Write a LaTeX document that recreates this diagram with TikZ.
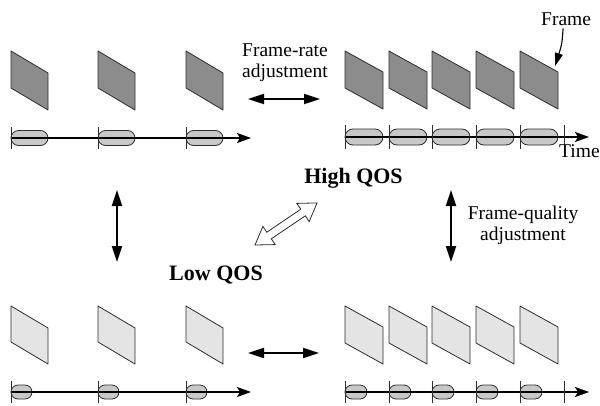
\documentclass[tikz,border=0pt]{standalone}
\usepackage{fontspec}
\setmainfont{Liberation Serif}
\usetikzlibrary{arrows.meta}
\definecolor{darkframe}{RGB}{140,140,140}
\definecolor{lightframe}{RGB}{228,228,228}
\definecolor{pillgray}{RGB}{200,200,200}
\definecolor{edgegray}{RGB}{45,45,45}
\begin{document}
\begin{tikzpicture}[x=1pt,y=-1pt,
  frameshape/.style={draw=edgegray, line width=0.8pt, line join=round},
  pill/.style={draw=edgegray, fill=pillgray, line width=0.8pt},
  timeline/.style={line width=1.8pt, -{Stealth[length=14pt,width=10pt,inset=3pt]}},
  tickmark/.style={draw=edgegray, line width=0.8pt},
  dblarrow/.style={line width=2pt, {Triangle[length=16pt,width=10pt]}-{Triangle[length=16pt,width=10pt]}},
  lbl/.style={font=\fontsize{19.5}{21}\selectfont, align=center, inner sep=0pt},
  qos/.style={font=\fontsize{22}{24}\selectfont\bfseries, inner sep=0pt},
  hollow/.style={draw=edgegray, fill=white, line width=0.8pt, line join=miter}
]
\useasboundingbox (0,0) rectangle (600,405);

% ---------- top-left: low frame rate, high quality ----------
\foreach \x in {11,98,186}{
  \draw[frameshape, fill=darkframe] (\x,51) -- ++(37,22) -- ++(0,37) -- ++(-37,-22) -- cycle;
  \draw[pill, rounded corners=7.5pt] (\x,130.5) rectangle ++(37,15);
}
\draw[timeline] (11,138) -- (251,138);
\foreach \x in {11,98,186}{ \draw[tickmark] (\x,127) -- (\x,149); }

% ---------- top-right: high frame rate, high quality ----------
\foreach \x in {345,389,432,476,520}{
  \draw[frameshape, fill=darkframe] (\x,51) -- ++(38,21) -- ++(0,37) -- ++(-38,-21) -- cycle;
  \draw[pill, rounded corners=8pt] (\x,129) rectangle ++(38,16);
}
\draw[timeline] (345,137) -- (589,137);
\foreach \x in {345,389,432,476,520,564}{ \draw[tickmark] (\x,125) -- (\x,149); }

% ---------- bottom-left: low frame rate, low quality ----------
\foreach \x in {11,98,186}{
  \draw[frameshape, fill=lightframe] (\x,306) -- ++(37,22) -- ++(0,36) -- ++(-37,-22) -- cycle;
  \draw[pill, rounded corners=7pt] (\x,385) rectangle ++(21,14);
}
\draw[timeline] (11,392) -- (251,392);
\foreach \x in {11,98,186}{ \draw[tickmark] (\x,381) -- (\x,403); }

% ---------- bottom-right: high frame rate, low quality ----------
\foreach \x in {345,389,432,476,520}{
  \draw[frameshape, fill=lightframe] (\x,306) -- ++(38,21) -- ++(0,37) -- ++(-38,-21) -- cycle;
  \draw[pill, rounded corners=7pt] (\x,385) rectangle ++(22,14);
}
\draw[timeline] (345,392) -- (589,392);
\foreach \x in {345,389,432,476,520,564}{ \draw[tickmark] (\x,381) -- (\x,403); }

% ---------- labels ----------
\node[lbl, anchor=base west] (framelbl) at (541,25) {Frame};
\node[lbl, anchor=base west] (timelbl) at (559,157) {Time};
\node[lbl] (ratelbl) at (285,62.5) {Frame-rate\\adjustment};
\node[lbl] (qualitylbl) at (523,225.5) {Frame-quality\\adjustment};
\node[qos, anchor=base] (high) at (353.5,183) {High QOS};
\node[qos, anchor=base] (low) at (216,280) {Low QOS};

% ---------- arrows ----------
\coordinate (topL) at (248,99);  \coordinate (topR) at (320,99);
\coordinate (botL) at (248,353); \coordinate (botR) at (319,353);
\coordinate (leftT) at (117,190); \coordinate (leftB) at (117,262);
\coordinate (rightT) at (451,190); \coordinate (rightB) at (451,262);
\draw[dblarrow] (topL) -- (topR);
\draw[dblarrow] (botL) -- (botR);
\draw[dblarrow] (leftT) -- (leftB);
\draw[dblarrow] (rightT) -- (rightB);

\coordinate (frameptr) at (555,66);
\draw[line width=1.1pt, -{Triangle[length=13pt,width=8pt]}]
  ([xshift=-3pt,yshift=-3pt]framelbl.south) .. controls (562,44) .. (frameptr);

% hollow double arrow between Low QOS and High QOS
\draw[hollow] (255,245) -- (275.2,244.6) -- (271.3,238.8) -- (305.3,215.8) -- (309.2,221.6)
  -- (317.1,202.9) -- (296.8,203.4) -- (300.8,209.2) -- (266.8,232.2) -- (262.9,226.4) -- cycle;
\end{tikzpicture}
\end{document}
